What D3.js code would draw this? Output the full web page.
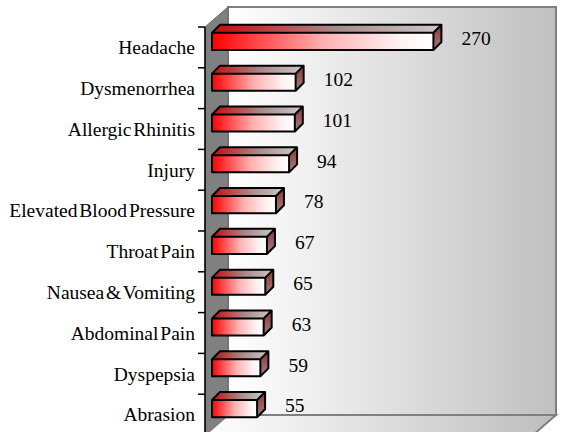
<!DOCTYPE html>
<html>
<head>
<meta charset="utf-8">
<script src="https://cdn.jsdelivr.net/npm/d3@7"></script>
<style>
  body { margin: 0; background: #fff; }
  svg { display: block; }
  text { font-family: "Liberation Serif", "Times New Roman", serif; font-size: 19.5px; fill: #000; }
</style>
</head>
<body>
<div id="chart"></div>
<script>
// data, top to bottom
var categories = ['Headache', 'Dysmenorrhea', 'Allergic Rhinitis', 'Injury', 'Elevated Blood Pressure',
  'Throat Pain', 'Nausea & Vomiting', 'Abdominal Pain', 'Dyspepsia', 'Abrasion'];
var counts = [270, 102, 101, 94, 78, 67, 65, 63, 59, 55];
var valueDomain = [0, 400];

var width = 561, height = 432;
// front plane of the 3d box, and the depth offset to the back wall
var front = { left: 205, right: 533, top: 27, bottom: 435 };
var depth = { dx: 23, dy: -20 };
// bars sit a bit behind the front plane and have their own depth
var barShift = { dx: 7, dy: -6 };
var barDepth = { dx: 8, dy: -8 };

var data = categories.map(function (c, i) { return { name: c, value: counts[i] }; });

var svg = d3.select('#chart').append('svg')
  .attr('width', width)
  .attr('height', height);

var defs = svg.append('defs');

function grad(id, stops, vertical) {
  var g = defs.append('linearGradient').attr('id', id)
    .attr('x1', 0).attr('y1', 0)
    .attr('x2', vertical ? 0 : 1).attr('y2', vertical ? 1 : 0);
  stops.forEach(function (s) {
    g.append('stop').attr('offset', s[0]).attr('stop-color', s[1]);
  });
}
grad('wallGrad', [[0, '#ffffff'], [1, '#c0c0c0']]);
grad('floorGrad', [[0, '#ffffff'], [1, '#bdbdbd']]);
grad('frontGrad', [[0, '#ff0000'], [0.5, '#ffb0b0'], [0.85, '#fff2f2'], [1, '#ffffff']]);
grad('topGrad', [[0, '#c80808'], [0.55, '#a88c8c'], [1, '#cfc8c8']]);
grad('sideGrad', [[0, '#8a3636'], [1, '#a88080']], true);

var x = d3.scaleLinear().domain(valueDomain).range([front.left, front.right]);
var y = d3.scaleBand()
  .domain(categories)
  .range([front.top, front.bottom])
  .paddingInner(0.58)
  .paddingOuter(0.29);

// back wall
svg.append('rect')
  .attr('x', front.left + depth.dx)
  .attr('y', front.top + depth.dy)
  .attr('width', front.right - front.left)
  .attr('height', front.bottom - front.top)
  .attr('fill', 'url(#wallGrad)')
  .attr('stroke', '#808080')
  .attr('stroke-width', 2);

// side wall
svg.append('path')
  .attr('d', 'M' + front.left + ',' + front.top +
    'L' + (front.left + depth.dx) + ',' + (front.top + depth.dy) +
    'L' + (front.left + depth.dx) + ',' + (front.bottom + depth.dy) +
    'L' + front.left + ',' + front.bottom + 'Z')
  .attr('fill', '#808080')
  .attr('stroke', '#6a6a6a')
  .attr('stroke-width', 1);

// floor
svg.append('path')
  .attr('d', 'M' + front.left + ',' + front.bottom +
    'L' + (front.left + depth.dx) + ',' + (front.bottom + depth.dy) +
    'L' + (front.right + depth.dx) + ',' + (front.bottom + depth.dy) +
    'L' + front.right + ',' + front.bottom + 'Z')
  .attr('fill', 'url(#floorGrad)')
  .attr('stroke', '#808080')
  .attr('stroke-width', 2);

// category axis
var gy = svg.append('g').attr('class', 'y axis');
gy.append('line')
  .attr('x1', front.left).attr('x2', front.left)
  .attr('y1', front.top).attr('y2', front.bottom)
  .attr('stroke', '#000').attr('stroke-width', 1.5);
gy.selectAll('.tick')
  .data(categories)
  .enter().append('line')
  .attr('class', 'tick')
  .attr('x1', front.left - 7).attr('x2', front.left)
  .attr('y1', function (d, i) { return front.top + i * y.step(); })
  .attr('y2', function (d, i) { return front.top + i * y.step(); })
  .attr('stroke', '#000').attr('stroke-width', 1.5);
gy.selectAll('.label')
  .data(categories)
  .enter().append('text')
  .attr('class', 'label')
  .attr('x', 195)
  .attr('y', function (d) { return y(d) + y.bandwidth() / 2; })
  .attr('dy', '0.35em')
  .attr('text-anchor', 'end')
  .attr('word-spacing', '-3px')
  .text(function (d) { return d; });

// bars
var bars = svg.append('g').selectAll('.bar')
  .data(data)
  .enter().append('g')
  .attr('class', 'bar');

function barBox(d) {
  var x0 = x(0) + barShift.dx, x1 = x(d.value) + barShift.dx;
  var y0 = y(d.name) + barShift.dy, y1 = y0 + y.bandwidth();
  return { x0: x0, x1: x1, y0: y0, y1: y1 };
}

bars.append('path')
  .attr('d', function (d) {
    var b = barBox(d);
    return 'M' + b.x0 + ',' + b.y0 + 'L' + (b.x0 + barDepth.dx) + ',' + (b.y0 + barDepth.dy) +
      'L' + (b.x1 + barDepth.dx) + ',' + (b.y0 + barDepth.dy) + 'L' + b.x1 + ',' + b.y0 + 'Z';
  })
  .attr('fill', 'url(#topGrad)');

bars.append('path')
  .attr('d', function (d) {
    var b = barBox(d);
    return 'M' + b.x1 + ',' + b.y0 + 'L' + (b.x1 + barDepth.dx) + ',' + (b.y0 + barDepth.dy) +
      'L' + (b.x1 + barDepth.dx) + ',' + (b.y1 + barDepth.dy) + 'L' + b.x1 + ',' + b.y1 + 'Z';
  })
  .attr('fill', 'url(#sideGrad)');

bars.append('rect')
  .attr('x', function (d) { return barBox(d).x0; })
  .attr('y', function (d) { return barBox(d).y0; })
  .attr('width', function (d) { return x(d.value) - x(0); })
  .attr('height', y.bandwidth())
  .attr('fill', 'url(#frontGrad)');

// black outline of the whole box
bars.append('path')
  .attr('d', function (d) {
    var b = barBox(d);
    return 'M' + b.x0 + ',' + b.y1 + 'L' + b.x0 + ',' + b.y0 +
      'L' + (b.x0 + barDepth.dx) + ',' + (b.y0 + barDepth.dy) +
      'L' + (b.x1 + barDepth.dx) + ',' + (b.y0 + barDepth.dy) +
      'L' + (b.x1 + barDepth.dx) + ',' + (b.y1 + barDepth.dy) +
      'L' + b.x1 + ',' + b.y1 + 'Z' +
      'M' + b.x0 + ',' + b.y0 + 'L' + b.x1 + ',' + b.y0 +
      'L' + (b.x1 + barDepth.dx) + ',' + (b.y0 + barDepth.dy) +
      'M' + b.x1 + ',' + b.y0 + 'L' + b.x1 + ',' + b.y1;
  })
  .attr('fill', 'none')
  .attr('stroke', '#000')
  .attr('stroke-width', 2)
  .attr('stroke-linejoin', 'round');

// value labels
bars.append('text')
  .attr('x', function (d) { return x(d.value) + barShift.dx + 28; })
  .attr('y', function (d) { return y(d.name) + barShift.dy + y.bandwidth() / 2 - 3; })
  .attr('dy', '0.35em')
  .text(function (d) { return d.value; });
</script>
</body>
</html>
